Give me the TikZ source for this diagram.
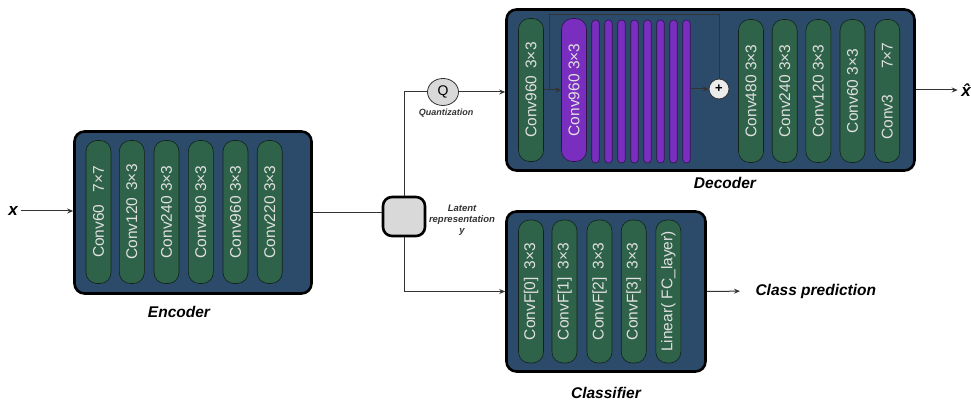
\documentclass[tikz,border=0pt]{standalone}
\usepackage{fontspec}
\setmainfont{Liberation Sans}
\usetikzlibrary{shapes.geometric, arrows.meta, positioning, calc}
\definecolor{boxblue}{HTML}{2C4A69}
\definecolor{convgreen}{HTML}{2F6349}
\definecolor{resviolet}{HTML}{7A2EC0}
\definecolor{latgray}{HTML}{D9D9D9}

\begin{document}
\begin{tikzpicture}[x=1pt, y=-1pt,
        bloque/.style={rectangle, draw=black, line width=2.6pt, rounded corners=10pt, fill=boxblue},
        capa/.style={rectangle, draw=black!65!convgreen, line width=0.6pt, rounded corners=11pt, fill=convgreen, rotate=90, minimum width=143pt, minimum height=25pt, inner sep=0pt, text=white!88!black, font=\fontsize{15.5}{16}\selectfont},
        residual/.style={capa, fill=resviolet, draw=black!60!resviolet},
        barra/.style={rectangle, draw=black!60!resviolet, line width=0.6pt, rounded corners=3.5pt, fill=resviolet, minimum width=7.5pt, minimum height=143pt, inner sep=0pt},
        titulo/.style={font=\fontsize{15.5}{16}\selectfont\bfseries\itshape},
        nota/.style={font=\fontsize{9.5}{11}\selectfont\bfseries\itshape, text=black!80, align=center},
        linea/.style={draw=black!80, line width=1pt},
        flecha/.style={linea, -{Stealth[length=6pt, width=5pt]}}]
        \useasboundingbox (0,0) rectangle (971,403);
        % encoder
        \node[bloque, minimum width=237pt, minimum height=162pt] (enc) at (193,212.5) {};
        \foreach \x/\t [count=\i] in {98.5/{Conv60\hspace{12pt}7×7}, 131.8/{Conv120\hspace{7pt}3×3}, 166.5/{Conv240 3×3}, 200.8/{Conv480 3×3}, 235.5/{Conv960 3×3}, 269.7/{Conv220 3×3}}
            \node[capa] (e\i) at (\x,212) {\t};
        \node[titulo] (enclab) at (179,312) {Encoder};
        \node[titulo, font=\fontsize{17}{17}\selectfont\bfseries\itshape] (xin) at (13,211) {x};
        % latent
        \node[rectangle, draw=black, line width=2.6pt, rounded corners=9pt, fill=latgray, minimum width=42pt, minimum height=39pt] (lat) at (404,216.5) {};
        \node[nota] (lattxt) at (462,220) {Latent\\representation\\y};
        \node[ellipse, draw=black!80, line width=0.8pt, fill=latgray, minimum width=31pt, minimum height=27pt, inner sep=0pt, font=\fontsize{14}{14}\selectfont] (q) at (443,92) {Q};
        \node[nota, font=\fontsize{9}{11}\selectfont\bfseries\itshape] (qtxt) at (446,113) {Quantization};
        % decoder
        \node[bloque, minimum width=408pt, minimum height=161pt] (dec) at (710.5,90) {};
        \node[capa] (d1) at (531,90) {Conv960\hspace{7pt}3×3};
        \node[residual] (rb) at (574,90) {Conv960 3×3};
        \foreach \i in {1,...,8}
            \node[barra] (b\i) at (582.5+13*\i,91.5) {};
        \node[circle, draw=black!80, line width=0.8pt, fill=gray!15, minimum size=20pt, inner sep=0pt, font=\fontsize{13}{13}\selectfont\bfseries] (plus) at (719,89) {+};
        \foreach \x/\t [count=\i] in {751/{Conv480 3×3}, 784.7/{Conv240 3×3}, 818.4/{Conv120 3×3}, 852.5/{Conv60 3×3}, 887.2/{Conv3\hspace{26pt}7×7}}
            \node[capa] (d\the\numexpr\i+1\relax) at (\x,91) {\t};
        \node[titulo] (declab) at (725,183) {Decoder};
        \node[titulo, font=\fontsize{17}{17}\selectfont\bfseries\itshape] (xhat) at (966,90) {\^x};
        % classifier
        \node[bloque, minimum width=199pt, minimum height=160pt] (cls) at (606,291.5) {};
        \foreach \x/\t [count=\i] in {531/{ConvF[0]\hspace{8pt}3×3}, 564.5/{ConvF[1]\hspace{8pt}3×3}, 599.5/{ConvF[2]\hspace{8pt}3×3}, 633.7/{ConvF[3]\hspace{8pt}3×3}, 668.3/{Linear( FC\_layer)}}
            \node[capa] (c\i) at (\x,291.5) {\t};
        \node[titulo] (clslab) at (606,393) {Classifier};
        \node[titulo, anchor=west] (pred) at (752,291) {Class prediction};
        % connections
        \draw[flecha] (xin) -- (xin -| enc.west);
        \draw[linea] (enc.east) -- (enc.east -| lat.west);
        \draw[linea] (lat.north) |- (q.west);
        \draw[flecha] (q.east) -- (q.east -| dec.west);
        \draw[flecha] (lat.south) |- (cls.west);
        \draw[flecha] (d1.south) -- (rb.north);
        \coordinate (salto) at ($(d1.south)!0.35!(rb.north)$);
        \draw[linea] (salto) -- ++(0,-75) -| (plus.north);
        \draw[flecha] (b8.east |- plus) -- (plus.west);
        \draw[flecha] (dec.east) -- (xhat.west);
        \draw[flecha, shorten >=12pt] (cls.east) -- (pred.west);
    \end{tikzpicture}
\end{document}
